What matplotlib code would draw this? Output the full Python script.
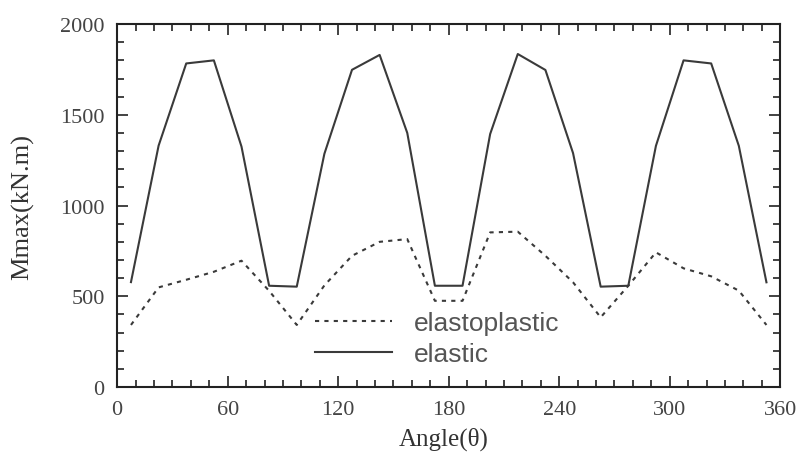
import numpy as np
import matplotlib.pyplot as plt
from matplotlib.ticker import MultipleLocator

# angles sampled every 15 deg, offset 7.5
angle = np.arange(7.5, 360, 15)
elastic = [578, 1330, 1783, 1800, 1325, 558, 553, 1285, 1748, 1830, 1400, 558,
           558, 1394, 1835, 1747, 1289, 553, 558, 1329, 1800, 1783, 1329, 577]
elastoplastic = [342, 549, 591, 635, 696, 530, 342, 560, 723, 800, 815, 475,
                 475, 852, 856, 723, 577, 384, 558, 742, 654, 610, 531, 342]

serif = ['Liberation Serif', 'DejaVu Serif']
ink = '#3a3a3a'

fig = plt.figure(figsize=(7.97, 4.6), dpi=100)
ax = fig.add_axes([0.147, 0.1565, 0.832, 0.789])

ax.plot(angle, elastoplastic, color=ink, lw=1.5, linestyle=(0, (2, 2.5)), label='elastoplastic')
ax.plot(angle, elastic, color=ink, lw=1.5, label='elastic')

ax.set_xlim(0, 360)
ax.set_ylim(0, 2000)
ax.xaxis.set_major_locator(MultipleLocator(60))
ax.xaxis.set_minor_locator(MultipleLocator(10))
ax.yaxis.set_major_locator(MultipleLocator(500))
ax.yaxis.set_minor_locator(MultipleLocator(100))
ax.tick_params(which='both', direction='in', top=True, right=True, color='#222222', width=1.2)
ax.tick_params(which='major', length=8, labelsize=16, labelcolor='#444444')
ax.tick_params(axis='x', which='major', pad=9)
ax.tick_params(axis='y', which='major', pad=9)
ax.tick_params(which='minor', length=5)
for lbl in ax.get_xticklabels() + ax.get_yticklabels():
    lbl.set_family(serif)
for s in ax.spines.values():
    s.set_linewidth(1.5)
    s.set_color('#222222')

ax.set_xlabel('Angle(θ)', family=serif, fontsize=18, color='#333333')
ax.set_ylabel('Mmax(kN.m)', family=serif, fontsize=19, color='#333333')
ax.xaxis.set_label_coords(0.493, -0.11)
ax.yaxis.set_label_coords(-0.125, 0.5)

ax.legend(loc='upper left', bbox_to_anchor=(0.279, 0.245), frameon=False,
          handlelength=2.9, handletextpad=0.85, borderpad=0, labelspacing=0.25,
          prop={'family': ['Liberation Sans', 'DejaVu Sans'], 'size': 19},
          labelcolor='#555555')

fig.savefig('out.png', dpi=100)
